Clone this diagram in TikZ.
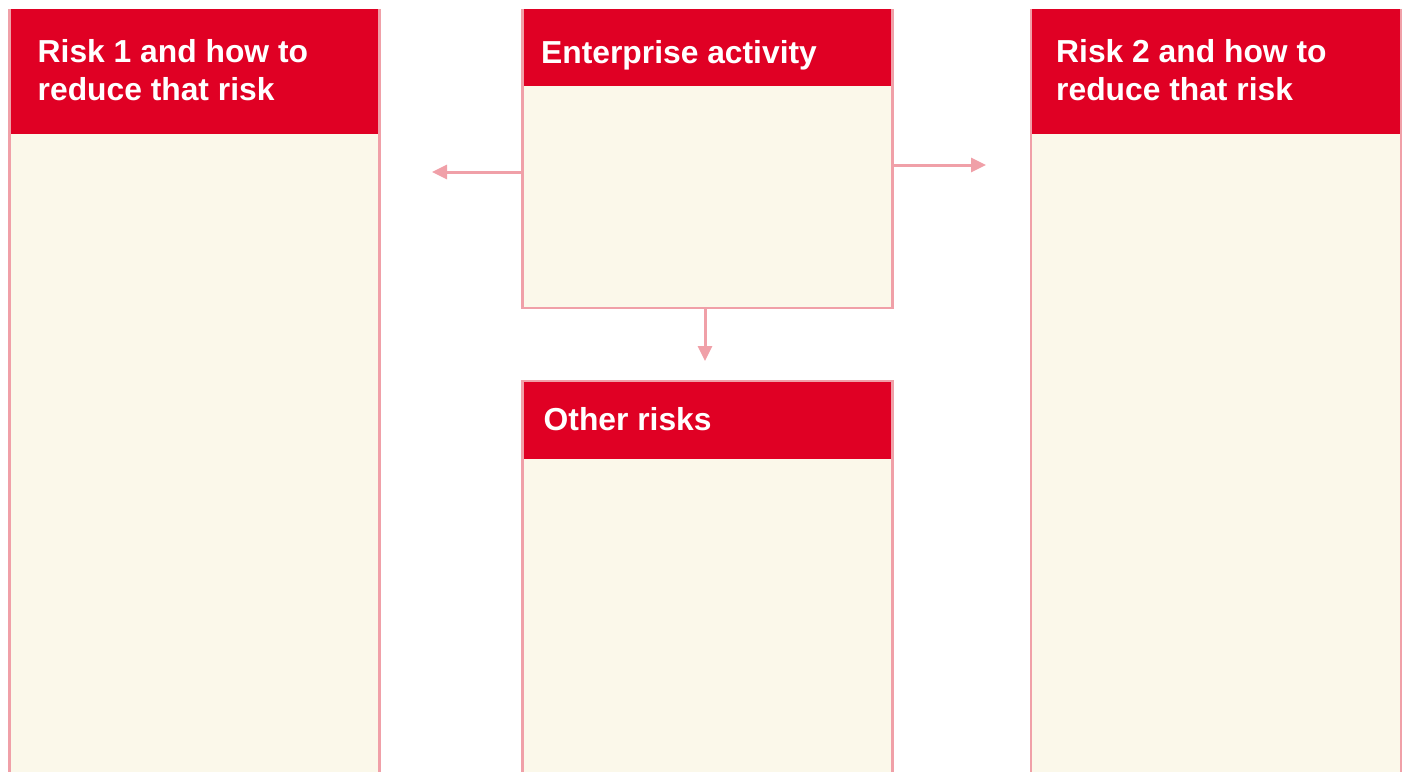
\documentclass[tikz,border=0pt]{standalone}
\usepackage{fontspec}
\setmainfont{Liberation Sans}
\usetikzlibrary{arrows.meta}
\definecolor{hdred}{HTML}{E00024}
\definecolor{cream}{HTML}{FBF8EA}
\definecolor{pinkline}{HTML}{F0A0A8}
\tikzset{
  panel/.style={draw=pinkline, line width=2.5pt, fill=cream, rectangle, anchor=north west, inner sep=0pt, outer sep=0pt},
  header/.style={fill=hdred, rectangle, anchor=north west, inner sep=0pt, outer sep=0pt},
  title/.style={anchor=base west, inner sep=0pt, text=white, font=\bfseries\fontsize{31.8}{38}\selectfont, align=left},
  link/.style={draw=pinkline, line width=3pt, -{Triangle[length=15pt,width=14pt]}}
}
\begin{document}
\begin{tikzpicture}[x=1pt,y=-1pt]
\useasboundingbox (0,0) rectangle (1405,771);
\clip (0,0) rectangle (1405,771);
% panels
\node[panel, minimum width=370pt, minimum height=800pt] (r1) at (9.3,10) {};
\node[panel, minimum width=370pt, minimum height=298pt] (act) at (522.3,10) {};
\node[panel, minimum width=370pt, minimum height=420pt] (oth) at (522.3,381.5) {};
\node[panel, minimum width=370pt, minimum height=800pt] (r2) at (1031,10) {};
% headers
\node[header, minimum width=367.5pt, minimum height=125pt] (r1h) at (10.5,9) {};
\node[header, minimum width=367.5pt, minimum height=77pt] (acth) at (523.5,9) {};
\node[header, minimum width=367.5pt, minimum height=77pt] (othh) at (523.5,382) {};
\node[header, minimum width=367.5pt, minimum height=125pt] (r2h) at (1032.2,9) {};
% titles
\node[title] (r1t) at (37.5,100) {Risk 1 and how to\\reduce that risk};
\node[title] (actt) at (541,63) {Enterprise activity};
\node[title] (otht) at (543.5,430) {Other risks};
\node[title] (r2t) at (1056,100) {Risk 2 and how to\\reduce that risk};
% arrows
\coordinate (lt) at (432,172);
\coordinate (rt) at (986,165);
\coordinate (dn) at (705,361);
\draw[link] (act.west |- lt) -- (lt);
\draw[link] (act.east |- rt) -- (rt);
\draw[link] (act.south -| dn) -- (dn);
\end{tikzpicture}
\end{document}
